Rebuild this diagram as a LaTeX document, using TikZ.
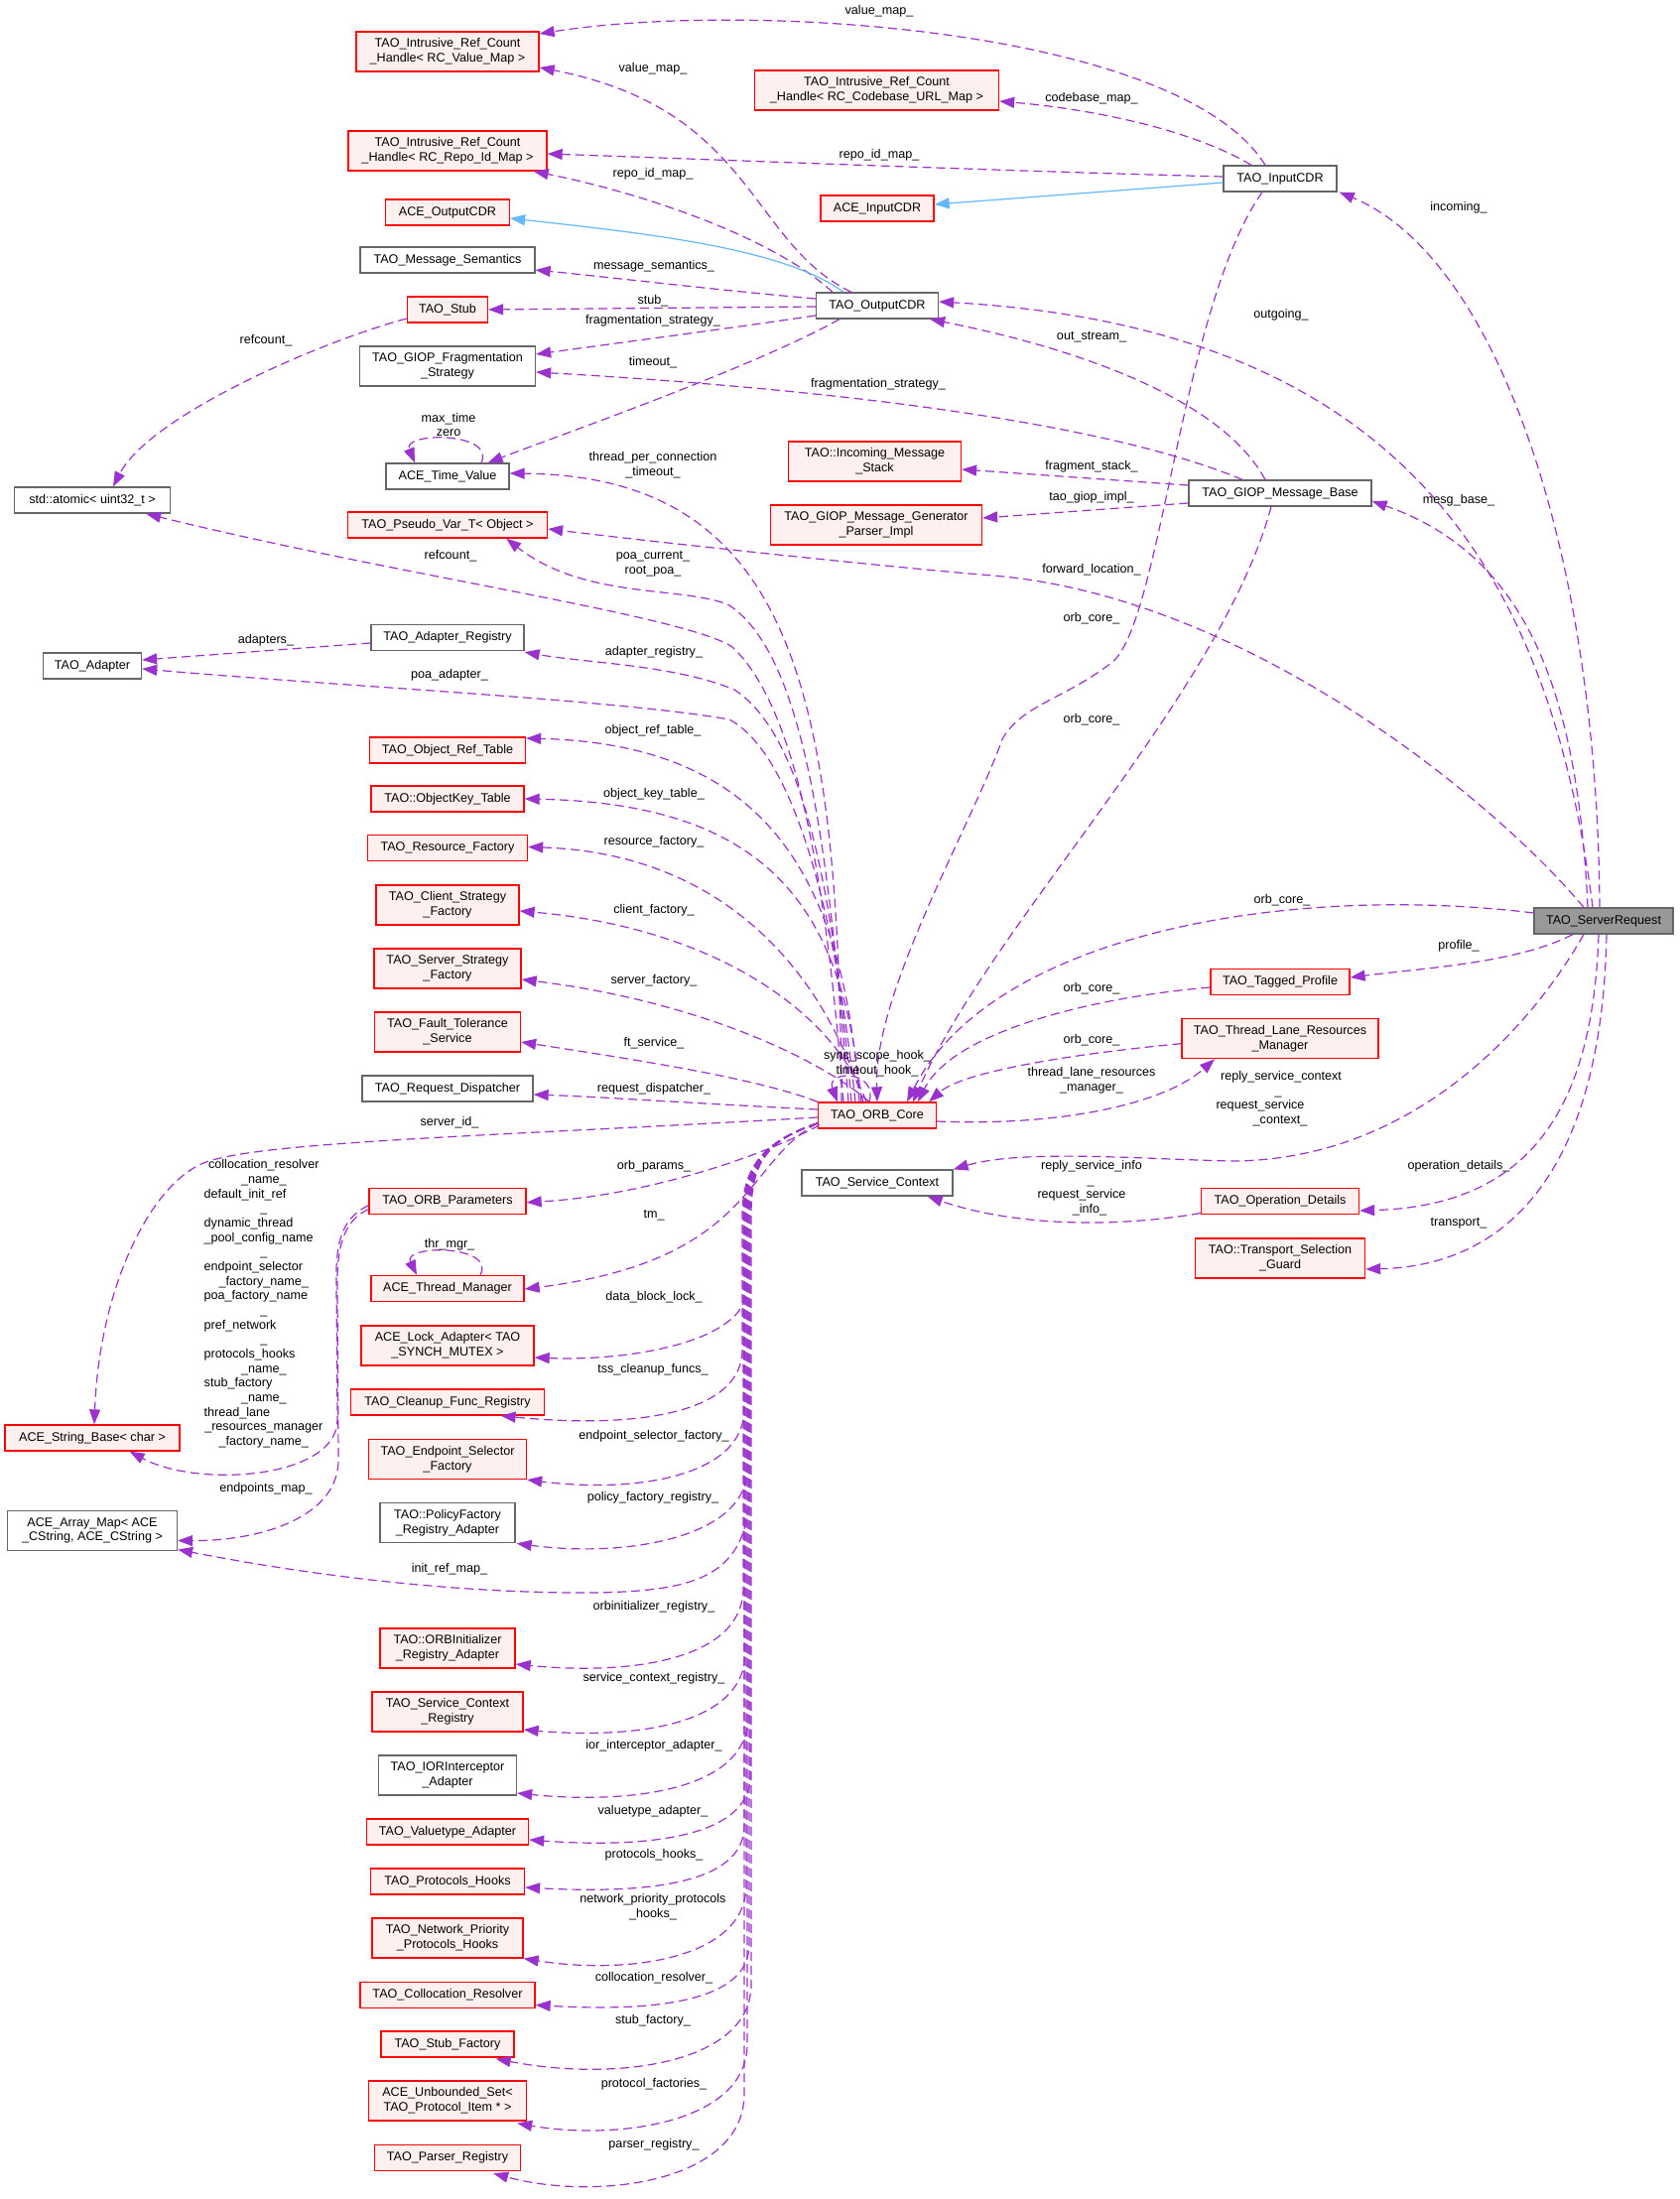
\documentclass[tikz,border=0pt]{standalone}
\usepackage{fontspec}
\newfontfamily\lsans{Liberation Sans}
\usetikzlibrary{arrows.meta,calc}
\definecolor{edgec}{HTML}{9A32CD}
\definecolor{inhc}{HTML}{63B8FF}
\definecolor{redb}{HTML}{FF0000}
\definecolor{redf}{HTML}{FFF0F0}
\definecolor{grayb}{HTML}{666666}
\definecolor{srfill}{HTML}{999999}
\newcommand\dgf{\lsans\fontsize{12.6}{14.7}\selectfont}
\tikzset{
  box/.style={line width=1.3pt, inner sep=0pt, align=center, font=\dgf},
  rbox/.style={box, draw=redb, fill=redf},
  gbox/.style={box, draw=grayb, fill=white},
  sbox/.style={box, draw=grayb, fill=srfill},
  sh/.style={minimum height=26},
  dh/.style={minimum height=40},
  mem/.style={draw=edgec, line width=1.2pt, dash pattern=on 9pt off 5pt, -{Triangle[length=15pt,width=11pt]}},
  inh/.style={draw=inhc, line width=1.2pt, -{Triangle[length=15pt,width=11pt]}},
  lbl/.style={font=\dgf, inner sep=0pt, text height=9pt, text depth=3pt},
  lblm/.style={font=\dgf, inner sep=0pt, align=center},
}
\catcode`\_=12
\begin{document}
\begin{tikzpicture}[x=1pt,y=-1pt]
\useasboundingbox (0,0) rectangle (1692,2216);
\fill[white] (0,0) rectangle (1692,2216);
% ---------------- nodes ----------------
\node[rbox,dh,minimum width=184] (vmap) at (451,52) {TAO_Intrusive_Ref_Count\\_Handle< RC_Value_Map >};
\node[rbox,dh,minimum width=246] (cmap) at (883.5,91) {TAO_Intrusive_Ref_Count\\_Handle< RC_Codebase_URL_Map >};
\node[rbox,dh,minimum width=200] (rmap) at (451,152) {TAO_Intrusive_Ref_Count\\_Handle< RC_Repo_Id_Map >};
\node[gbox,sh,minimum width=114] (icdr) at (1290,180) {TAO_InputCDR};
\node[rbox,sh,minimum width=114] (aicdr) at (884,210) {ACE_InputCDR};
\node[rbox,sh,minimum width=125] (aocdr) at (451,214) {ACE_OutputCDR};
\node[gbox,sh,minimum width=176] (msem) at (451,262) {TAO_Message_Semantics};
\node[rbox,sh,minimum width=81] (stub) at (451,312) {TAO_Stub};
\node[gbox,sh,minimum width=123] (ocdr) at (884,308) {TAO_OutputCDR};
\node[gbox,dh,minimum width=177] (frag) at (451,369) {TAO_GIOP_Fragmentation\\_Strategy};
\node[gbox,sh,minimum width=124] (tval) at (451,480) {ACE_Time_Value};
\node[gbox,sh,minimum width=157] (atomic) at (93,504) {std::atomic< uint32_t >};
\node[rbox,sh,minimum width=201] (pvar) at (451,529) {TAO_Pseudo_Var_T< Object >};
\node[rbox,dh,minimum width=174] (ims) at (881.5,465) {TAO::Incoming_Message\\_Stack};
\node[rbox,dh,minimum width=213] (gmg) at (883,529) {TAO_GIOP_Message_Generator\\_Parser_Impl};
\node[gbox,sh,minimum width=184] (gbase) at (1290,497) {TAO_GIOP_Message_Base};
\node[gbox,sh,minimum width=154] (areg) at (451,642.5) {TAO_Adapter_Registry};
\node[gbox,sh,minimum width=99] (adapter) at (93,671) {TAO_Adapter};
\node[rbox,sh,minimum width=157] (ortable) at (451,756) {TAO_Object_Ref_Table};
\node[rbox,sh,minimum width=154] (oktable) at (451,805) {TAO::ObjectKey_Table};
\node[rbox,sh,minimum width=161] (rfact) at (451,854.5) {TAO_Resource_Factory};
\node[rbox,dh,minimum width=144] (csf) at (451,912) {TAO_Client_Strategy\\_Factory};
\node[rbox,dh,minimum width=148] (ssf) at (451,976) {TAO_Server_Strategy\\_Factory};
\node[rbox,dh,minimum width=147] (fts) at (451,1040) {TAO_Fault_Tolerance\\_Service};
\node[gbox,sh,minimum width=172] (rdisp) at (451,1097) {TAO_Request_Dispatcher};
\node[rbox,sh,minimum width=119] (orbcore) at (884,1124) {TAO_ORB_Core};
\node[sbox,sh,minimum width=140] (sreq) at (1616,928) {TAO_ServerRequest};
\node[rbox,sh,minimum width=140] (tprof) at (1290,989.5) {TAO_Tagged_Profile};
\node[rbox,dh,minimum width=198] (tlrm) at (1290,1046.7) {TAO_Thread_Lane_Resources\\_Manager};
\node[gbox,sh,minimum width=152] (sctx) at (884,1192) {TAO_Service_Context};
\node[rbox,sh,minimum width=159] (opdet) at (1290,1210.5) {TAO_Operation_Details};
\node[rbox,dh,minimum width=171] (tsg) at (1290,1268) {TAO::Transport_Selection\\_Guard};
\node[rbox,sh,minimum width=158] (orbp) at (451,1210.7) {TAO_ORB_Parameters};
\node[rbox,sh,minimum width=154] (thrmgr) at (451,1298.5) {ACE_Thread_Manager};
\node[rbox,dh,minimum width=174] (lockad) at (451,1356) {ACE_Lock_Adapter< TAO\\_SYNCH_MUTEX >};
\node[rbox,sh,minimum width=195] (cleanup) at (451,1413) {TAO_Cleanup_Func_Registry};
\node[rbox,dh,minimum width=159] (epsel) at (451,1470.5) {TAO_Endpoint_Selector\\_Factory};
\node[rbox,sh,minimum width=176] (strbase) at (93,1449) {ACE_String_Base< char >};
\node[gbox,dh,minimum width=171] (amap) at (93,1542.5) {ACE_Array_Map< ACE\\_CString, ACE_CString >};
\node[gbox,dh,minimum width=136] (pfreg) at (451,1534.7) {TAO::PolicyFactory\\_Registry_Adapter};
\node[rbox,dh,minimum width=136] (orbinit) at (451,1661) {TAO::ORBInitializer\\_Registry_Adapter};
\node[rbox,dh,minimum width=152] (scr) at (451,1725) {TAO_Service_Context\\_Registry};
\node[gbox,dh,minimum width=139] (iori) at (451,1789) {TAO_IORInterceptor\\_Adapter};
\node[rbox,sh,minimum width=163] (vta) at (451,1846) {TAO_Valuetype_Adapter};
\node[rbox,sh,minimum width=155] (phooks) at (451,1896) {TAO_Protocols_Hooks};
\node[rbox,dh,minimum width=152] (nphooks) at (451,1953) {TAO_Network_Priority\\_Protocols_Hooks};
\node[rbox,sh,minimum width=176] (colres) at (451,2010.5) {TAO_Collocation_Resolver};
\node[rbox,sh,minimum width=134] (stubf) at (451,2060) {TAO_Stub_Factory};
\node[rbox,dh,minimum width=159] (uset) at (451,2117) {ACE_Unbounded_Set<\\TAO_Protocol_Item * >};
\node[rbox,sh,minimum width=147] (parser) at (451,2174.5) {TAO_Parser_Registry};
% ---------------- edges: TAO_InputCDR ----------------
\draw[mem] ($(icdr.north)+(-15,0)$) .. controls (1190,30) and (760,0) .. ($(vmap.east)+(0,-18)$);
\draw[mem] ($(icdr.north)+(-29,0)$) .. controls (1200,130) and (1100,110) .. ($(cmap.east)+(0,11)$);
\draw[mem] ($(icdr.west)+(0,-2)$) .. controls (1000,172) and (700,160) .. ($(rmap.east)+(0,3)$);
\draw[inh] ($(icdr.west)+(0,4)$) -- ($(aicdr.east)+(0,-4)$);
\draw[mem] ($(icdr.south)+(-18,0)$) .. controls (1190,310) and (1170,630) .. (1120,668) .. controls (1070,706) and (1030,710) .. (1010,745) .. controls (980,830) and (880,1000) .. (orbcore.north);
% ---------------- edges: TAO_OutputCDR ----------------
\draw[mem] ($(ocdr.north)+(-26,0)$) .. controls (755,245) and (760,110) .. ($(vmap.east)+(0,16)$);
\draw[mem] ($(ocdr.north)+(-45,0)$) .. controls (780,240) and (650,195) .. ($(rmap.south east)+(-14,0)$);
\draw[inh] ($(ocdr.north)+(-34,0)$) .. controls (790,250) and (650,235) .. ($(aocdr.east)+(0,6)$);
\draw[mem] ($(ocdr.west)+(0,-7)$) .. controls (720,292) and (620,280) .. ($(msem.east)+(0,10)$);
\draw[mem] ($(ocdr.west)+(0,1)$) -- (stub.east);
\draw[mem] ($(ocdr.west)+(0,10)$) .. controls (720,333) and (620,346) .. ($(frag.east)+(0,-12)$);
\draw[mem] ($(ocdr.south)+(-38,0)$) .. controls (760,370) and (560,440) .. ($(tval.north east)+(-22,0)$);
% self loop, stub
\draw[mem] ($(tval.north)+(34,0)$) .. controls (500,435) and (405,435) .. ($(tval.north)+(-33,0)$);
\draw[mem] ($(stub.west)+(0,9)$) .. controls (320,345) and (150,420) .. ($(atomic.north)+(21,0)$);
% ---------------- edges: GIOP message base ----------------
\draw[mem] ($(gbase.north)+(-15,0)$) .. controls (1230,400) and (1080,350) .. ($(ocdr.south east)+(-9,0)$);
\draw[mem] ($(gbase.north)+(-38,0)$) .. controls (1100,420) and (800,390) .. ($(frag.east)+(0,6)$);
\draw[mem] ($(gbase.west)+(0,-8)$) -- ($(ims.east)+(0,8)$);
\draw[mem] ($(gbase.west)+(0,10)$) -- ($(gmg.east)+(0,-7)$);
\draw[mem] ($(gbase.south)+(-9,0)$) .. controls (1230,700) and (1000,930) .. ($(orbcore.north)+(36,0)$);
% ---------------- edges: TAO_ServerRequest ----------------
\draw[mem] ($(sreq.north)+(-4,0)$) .. controls (1610,560) and (1510,260) .. ($(icdr.south east)+(2,0)$);
\draw[mem] ($(sreq.north)+(-11,0)$) .. controls (1560,560) and (1400,330) .. ($(ocdr.east)+(0,-4)$);
\draw[mem] ($(sreq.north)+(-16,0)$) .. controls (1590,700) and (1540,560) .. ($(gbase.east)+(0,8)$);
\draw[mem] ($(sreq.north)+(-20,0)$) .. controls (1500,800) and (1250,600) .. (1000,580) .. controls (880,570) and (650,545) .. ($(pvar.east)+(0,4)$);
\draw[mem] ($(sreq.west)+(0,-8)$) .. controls (1300,890) and (1000,940) .. ($(orbcore.north)+(30,0)$);
\draw[mem] ($(sreq.south)+(-31,0)$) .. controls (1530,970) and (1440,975) .. ($(tprof.east)+(0,-4.5)$);
\draw[mem] ($(sreq.south)+(-20,0)$) .. controls (1540,1040) and (1420,1170) .. (1240,1170) .. controls (1150,1168) and (1030,1158) .. (sctx.north east);
\draw[mem] ($(sreq.south)+(-5,0)$) .. controls (1605,1120) and (1540,1215) .. ($(opdet.east)+(0,9.5)$);
\draw[mem] ($(sreq.south)+(3,0)$) .. controls (1615,1150) and (1540,1275) .. ($(tsg.east)+(0,11)$);
% ---------------- edges: profile, lanes, details ----------------
\draw[mem] ($(tprof.west)+(0,5.5)$) .. controls (1100,1005) and (960,1040) .. ($(orbcore.north)+(41,0)$);
\draw[mem] ($(tlrm.west)+(0,5)$) .. controls (1080,1062) and (970,1080) .. ($(orbcore.north east)+(-8,0)$);
\draw[mem] ($(orbcore.east)+(0,6)$) .. controls (1060,1135) and (1170,1115) .. ($(tlrm.south)+(-66,0)$);
\draw[mem] ($(opdet.west)+(0,12)$) .. controls (1120,1238) and (1020,1235) .. ($(sctx.south east)+(-26,0)$);
\draw[mem] ($(orbcore.north)+(-8,0)$) .. controls (885,1078) and (832,1078) .. ($(orbcore.north west)+(20,0)$);
% ---------------- edges: ORB core upwards ----------------
\draw[mem] ($(orbcore.north)+(-36,0)$) .. controls (845,700) and (800,480) .. ($(tval.east)+(0,-3)$);
\draw[mem] ($(orbcore.north)+(-34,0)$) .. controls (830,850) and (795,705) .. (738,652) .. controls (690,620) and (400,580) .. ($(atomic.south east)+(-25,0)$);
\draw[mem] ($(orbcore.north)+(-29,0)$) .. controls (835,850) and (810,660) .. (735,610) .. controls (690,590) and (590,605) .. ($(pvar.south east)+(-42,0)$);
\draw[mem] ($(orbcore.north)+(-26,0)$) .. controls (840,900) and (810,740) .. (740,695) .. controls (680,670) and (590,668) .. ($(areg.south east)+(0,1)$);
\draw[mem] ($(orbcore.north)+(-22,0)$) .. controls (842,920) and (800,760) .. (735,725) .. controls (620,705) and (350,692) .. ($(adapter.east)+(0,3)$);
\draw[mem] ($(orbcore.north)+(-18,0)$) .. controls (850,880) and (770,750) .. ($(ortable.east)+(0,-12)$);
\draw[mem] ($(orbcore.north)+(-16,0)$) .. controls (850,920) and (780,810) .. (oktable.east);
\draw[mem] ($(orbcore.north)+(-14,0)$) .. controls (830,980) and (730,860) .. ($(rfact.east)+(0,-1)$);
\draw[mem] ($(orbcore.north)+(-11,0)$) .. controls (840,1020) and (720,935) .. ($(csf.east)+(0,6)$);
\draw[mem] ($(orbcore.north)+(-8,0)$) .. controls (830,1070) and (710,1010) .. ($(ssf.east)+(0,11)$);
\draw[mem] (orbcore.north west) .. controls (760,1085) and (620,1065) .. ($(fts.east)+(0,10)$);
\draw[mem] ($(orbcore.west)+(0,-6)$) .. controls (700,1112) and (600,1105) .. ($(rdisp.east)+(0,6)$);
\draw[mem] ($(orbcore.west)+(0,2)$) .. controls (500,1145) and (260,1150) .. (205,1172) .. controls (150,1195) and (100,1300) .. ($(strbase.north)+(2,0)$);
\draw[mem] ($(orbcore.south west)+(2,-4)$) .. controls (770,1165) and (650,1205) .. ($(orbp.east)+(0,1)$);
% ---------------- edges: ORB core downwards (bundle) ----------------
\draw[mem] ($(orbcore.west)+(0,8)$) .. controls (750,1170) and (760,1270) .. ($(thrmgr.east)+(0,0.5)$);
\draw[mem] ($(orbcore.west)+(0,8)$) .. controls (770,1150) and (752,1175) .. (752,1225) -- (752,1300) .. controls (752,1350) and (640,1372) .. ($(lockad.east)+(0,12)$);
\draw[mem] ($(orbcore.west)+(0,8)$) .. controls (770,1150) and (748,1175) .. (748,1225) -- (748,1360) .. controls (748,1425) and (640,1440) .. ($(cleanup.south east)+(-44.5,0)$);
\draw[mem] ($(orbcore.west)+(0,8)$) .. controls (770,1150) and (750,1175) .. (750,1225) -- (750,1420) .. controls (750,1488) and (640,1505) .. (epsel.south east);
\draw[mem] ($(orbcore.west)+(0,8)$) .. controls (770,1150) and (753,1175) .. (753,1225) -- (753,1480) .. controls (753,1550) and (630,1570) .. ($(pfreg.south east)+(1,0)$);
\draw[mem] ($(orbcore.west)+(0,8)$) .. controls (770,1150) and (755,1175) .. (755,1225) -- (755,1500) .. controls (755,1590) and (700,1603) .. (600,1605) .. controls (450,1606) and (300,1585) .. ($(amap.east)+(0,19)$);
\draw[mem] ($(orbcore.west)+(0,8)$) .. controls (770,1150) and (749,1175) .. (749,1225) -- (749,1600) .. controls (749,1675) and (630,1688) .. ($(orbinit.east)+(0,16)$);
\draw[mem] ($(orbcore.west)+(0,8)$) .. controls (770,1150) and (751,1175) .. (751,1225) -- (751,1665) .. controls (751,1742) and (630,1752) .. ($(scr.east)+(0,18)$);
\draw[mem] ($(orbcore.west)+(0,8)$) .. controls (770,1150) and (754,1175) .. (754,1225) -- (754,1730) .. controls (754,1806) and (630,1818) .. ($(iori.east)+(0,18)$);
\draw[mem] ($(orbcore.west)+(0,8)$) .. controls (770,1150) and (756,1175) .. (756,1225) -- (756,1790) .. controls (756,1855) and (640,1862) .. ($(vta.east)+(0,8)$);
\draw[mem] ($(orbcore.west)+(0,8)$) .. controls (770,1150) and (750,1175) .. (750,1225) -- (750,1840) .. controls (750,1902) and (640,1908) .. ($(phooks.east)+(0,6)$);
\draw[mem] ($(orbcore.west)+(0,8)$) .. controls (770,1150) and (752,1175) .. (752,1225) -- (752,1900) .. controls (752,1975) and (630,1990) .. (nphooks.south east);
\draw[mem] ($(orbcore.west)+(0,8)$) .. controls (770,1150) and (755,1175) .. (755,1225) -- (755,1960) .. controls (755,2020) and (650,2027) .. ($(colres.east)+(0,10)$);
\draw[mem] ($(orbcore.west)+(0,8)$) .. controls (770,1150) and (757,1175) .. (757,1225) -- (757,2000) .. controls (757,2080) and (620,2098) .. ($(stubf.south east)+(-19,1)$);
\draw[mem] ($(orbcore.west)+(0,8)$) .. controls (770,1150) and (753,1175) .. (753,1225) -- (753,2060) .. controls (753,2140) and (620,2157) .. ($(uset.south east)+(-10,2)$);
\draw[mem] ($(orbcore.west)+(0,8)$) .. controls (770,1150) and (750,1175) .. (750,1225) -- (750,2110) .. controls (750,2200) and (600,2218) .. ($(parser.south east)+(-28,2)$);
% ---------------- edges: ORB parameters, adapters ----------------
\draw[mem] ($(orbp.west)+(0,8)$) .. controls (345,1230) and (339,1260) .. (340,1300) -- (341,1470) .. controls (342,1530) and (260,1553) .. ($(amap.east)+(0,10)$);
\draw[mem] ($(orbp.west)+(0,4)$) .. controls (343,1228) and (338,1255) .. (339,1295) -- (340,1430) .. controls (341,1490) and (200,1500) .. ($(strbase.south east)+(-51,0)$);
\draw[mem] ($(areg.west)+(0,5.5)$) -- ($(adapter.east)+(0,-6)$);
\draw[mem] ($(thrmgr.north)+(33,0)$) .. controls (500,1254) and (405,1254) .. ($(thrmgr.north)+(-31,0)$);
% ---------------- labels ----------------
\node[lbl] (L1) at (886,12) {value_map_};
\node[lbl] (L2) at (1100,99) {codebase_map_};
\node[lbl] (L3) at (886,156) {repo_id_map_};
\node[lbl] (L4) at (658,69) {value_map_};
\node[lbl] (L5) at (658,175) {repo_id_map_};
\node[lbl] (L6) at (659,268) {message_semantics_};
\node[lbl] (L7) at (658,303) {stub_};
\node[lbl] (L8) at (658,323) {fragmentation_strategy_};
\node[lbl] (L9) at (658,365) {timeout_};
\node[lbl] (L10) at (268,343) {refcount_};
\node[lblm] (L11) at (452,428) {max_time\\zero};
\node[lbl] (L12) at (1470,209) {incoming_};
\node[lbl] (L13) at (1291,317) {outgoing_};
\node[lbl] (L14) at (1100,339) {out_stream_};
\node[lbl] (L15) at (885,387) {fragmentation_strategy_};
\node[lbl] (L16) at (1100,470) {fragment_stack_};
\node[lbl] (L17) at (1100,501) {tao_giop_impl_};
\node[lbl] (L18) at (1470,504) {mesg_base_};
\node[lblm] (L19) at (658,468.5) {thread_per_connection\\_timeout_};
\node[lbl] (L20) at (454,560) {refcount_};
\node[lblm] (L21) at (658,568.5) {poa_current_\\root_poa_};
\node[lbl] (L22) at (1100,574) {forward_location_};
\node[lbl] (L23) at (1100,623) {orb_core_};
\node[lbl] (L24) at (1100,725) {orb_core_};
\node[lbl] (L25) at (268,645) {adapters_};
\node[lbl] (L26) at (659,657) {adapter_registry_};
\node[lbl] (L27) at (453,680) {poa_adapter_};
\node[lbl] (L28) at (658,736) {object_ref_table_};
\node[lbl] (L29) at (659,800) {object_key_table_};
\node[lbl] (L30) at (659,848) {resource_factory_};
\node[lbl] (L31) at (1292,907) {orb_core_};
\node[lbl] (L32) at (659,917) {client_factory_};
\node[lbl] (L33) at (1470,953) {profile_};
\node[lbl] (L34) at (659,988) {server_factory_};
\node[lbl] (L35) at (1100,996) {orb_core_};
\node[lbl] (L36) at (1100,1048) {orb_core_};
\node[lbl] (L37) at (659,1051) {ft_service_};
\node[lblm] (L38) at (884,1071.5) {sync_scope_hook_\\timeout_hook_};
\node[lblm] (L39) at (1100,1088.5) {thread_lane_resources\\_manager_};
\node[lbl] (L40a) at (1291,1085) {reply_service_context};
\node[lbl] (L40b) at (1288,1100) {_};
\node[lbl] (L40c) at (1270,1114.5) {request_service};
\node[lbl] (L40d) at (1290,1129) {_context_};
\node[lbl] (L41) at (659,1097) {request_dispatcher_};
\node[lbl] (L42) at (453,1131) {server_id_};
\node[lbl] (L43) at (659,1175) {orb_params_};
\node[lbl] (L44a) at (1100,1175) {reply_service_info};
\node[lbl] (L44b) at (1099,1190) {_};
\node[lbl] (L44c) at (1090,1204.5) {request_service};
\node[lbl] (L44d) at (1098,1219) {_info_};
\node[lbl] (L45) at (1470,1175) {operation_details_};
\node[lbl] (L46) at (659,1224) {tm_};
\node[lbl] (L47) at (1470,1232) {transport_};
\node[lbl] (L48) at (453,1254) {thr_mgr_};
\node[lbl] (L49) at (659,1307) {data_block_lock_};
\node[lbl] (L50) at (658,1380) {tss_cleanup_funcs_};
\node[lbl] (L51) at (659,1447) {endpoint_selector_factory_};
\node[lbl] (L52) at (268,1500) {endpoints_map_};
\node[lbl] (L53) at (658,1509) {policy_factory_registry_};
\node[lbl] (L54) at (453,1581) {init_ref_map_};
\node[lbl] (L55) at (659,1619) {orbinitializer_registry_};
\node[lbl] (L56) at (659,1691) {service_context_registry_};
\node[lbl] (L57) at (659,1759) {ior_interceptor_adapter_};
\node[lbl] (L58) at (658,1825) {valuetype_adapter_};
\node[lbl] (L59) at (659,1869) {protocols_hooks_};
\node[lblm] (L60) at (658,1922) {network_priority_protocols\\_hooks_};
\node[lbl] (L61) at (659,1993) {collocation_resolver_};
\node[lbl] (L62) at (658,2036) {stub_factory_};
\node[lbl] (L63) at (659,2100) {protocol_factories_};
\node[lbl] (L64) at (659,2161) {parser_registry_};
\foreach \y/\t [count=\i] in {1174.7/collocation_resolver, 1189.3/_name_, 1218.7/_, 1262.7/_, 1292/_factory_name_, 1321.3/_, 1350.7/_, 1380/_name_, 1409.3/_name_, 1438.7/_resources_manager, 1453.3/_factory_name_}
  \node[lbl] (bc\i) at (265.8,\y) {\t};
\foreach \y/\t [count=\i] in {1204/default_init_ref, 1233.3/dynamic_thread, 1248/_pool_config_name, 1277.3/endpoint_selector, 1306.7/poa_factory_name, 1336/pref_network, 1365.3/protocols_hooks, 1394.7/stub_factory, 1424/thread_lane}
  \node[lbl, anchor=west] (bl\i) at (205.5,\y) {\t};
\end{tikzpicture}
\end{document}
